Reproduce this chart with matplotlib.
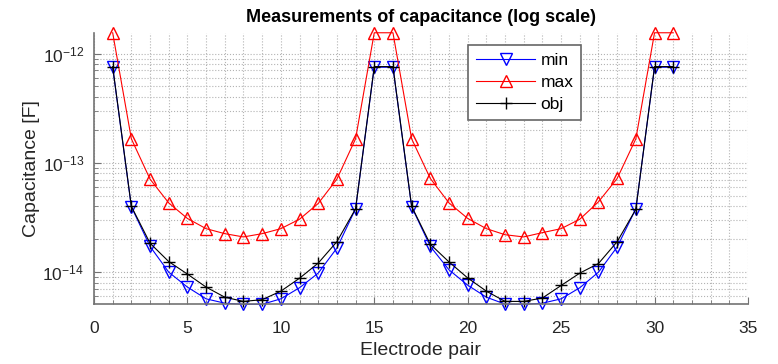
import matplotlib
matplotlib.use("Agg")
import matplotlib.pyplot as plt
from matplotlib.ticker import MultipleLocator, LogLocator, NullFormatter

plt.rcParams['font.family'] = ['Liberation Sans', 'DejaVu Sans']

# electrode pairs 1..31
pairs = list(range(1, 32))

cap_min = [7.5e-13, 3.96e-14, 1.72e-14, 1.0e-14, 7.3e-15, 5.7e-15, 5.2e-15, 5.08e-15,
           5.08e-15, 5.7e-15, 7.2e-15, 9.8e-15, 1.66e-14, 3.8e-14, 7.5e-13,
           7.5e-13, 3.96e-14, 1.72e-14, 1.05e-14, 7.6e-15, 5.9e-15, 5.1e-15, 5.08e-15,
           5.2e-15, 5.7e-15, 7.2e-15, 1.0e-14, 1.7e-14, 3.8e-14, 7.5e-13, 7.5e-13]

cap_max = [1.55e-12, 1.66e-13, 7.1e-14, 4.3e-14, 3.1e-14, 2.5e-14, 2.25e-14, 2.1e-14,
           2.25e-14, 2.5e-14, 3.05e-14, 4.25e-14, 7.1e-14, 1.66e-13, 1.55e-12,
           1.55e-12, 1.66e-13, 7.2e-14, 4.3e-14, 3.1e-14, 2.5e-14, 2.2e-14, 2.1e-14,
           2.3e-14, 2.5e-14, 3.05e-14, 4.4e-14, 7.2e-14, 1.66e-13, 1.55e-12, 1.55e-12]

cap_obj = [7.6e-13, 4.0e-14, 1.84e-14, 1.25e-14, 9.6e-15, 7.3e-15, 5.9e-15, 5.4e-15,
           5.6e-15, 6.7e-15, 8.8e-15, 1.21e-14, 1.9e-14, 3.8e-14, 7.6e-13,
           7.6e-13, 4.0e-14, 1.8e-14, 1.24e-14, 8.85e-15, 6.7e-15, 5.4e-15, 5.4e-15,
           5.8e-15, 7.55e-15, 9.8e-15, 1.2e-14, 1.9e-14, 3.76e-14, 7.6e-13, 7.6e-13]

fig = plt.figure(figsize=(7.78, 3.64), dpi=100)
ax = fig.add_axes([0.1208, 0.164, 0.8406, 0.746])

ax.semilogy(pairs, cap_min, color='blue', marker='v', markersize=9, markerfacecolor='none',
            linewidth=0.8, label='min', clip_on=False)
ax.semilogy(pairs, cap_max, color='red', marker='^', markersize=9, markerfacecolor='none',
            linewidth=0.8, label='max', clip_on=False)
ax.semilogy(pairs, cap_obj, color='black', marker='+', markersize=9,
            linewidth=0.8, label='obj', clip_on=False)

ax.set_xlim(0, 35)
ax.set_ylim(min(cap_min), max(cap_max))
ax.xaxis.set_major_locator(MultipleLocator(5))
ax.xaxis.set_minor_locator(MultipleLocator(1))
ax.yaxis.set_major_locator(LogLocator(base=10))
ax.yaxis.set_minor_locator(LogLocator(base=10, subs=range(2, 10)))
ax.yaxis.set_minor_formatter(NullFormatter())

ax.grid(True, which='both', linestyle=':', color='0.7', linewidth=0.8)
ax.set_axisbelow(True)

for s in ['top', 'right']:
    ax.spines[s].set_visible(False)
for s in ['left', 'bottom']:
    ax.spines[s].set_color('0.45')
    ax.spines[s].set_linewidth(1.2)

ax.tick_params(which='both', direction='in', colors='0.45', labelcolor='0.15', labelsize=12.5)
ax.tick_params(which='major', length=5)
ax.tick_params(which='minor', length=3, labelleft=False, labelbottom=False)
ax.tick_params(axis='x', which='major', pad=12)
ax.tick_params(axis='y', which='major', pad=7)

ax.set_title('Measurements of capacitance (log scale)', fontsize=13, fontweight='bold', pad=8)
ax.set_xlabel('Electrode pair', fontsize=14, color='0.15', labelpad=4)
ax.set_ylabel('Capacitance [F]', fontsize=14, color='0.15', labelpad=2)

leg = ax.legend(loc='upper left', bbox_to_anchor=(0.5725, 0.955), fontsize=12.5, fancybox=False,
                framealpha=1, edgecolor='0.4', handlelength=3.4, handletextpad=0.3,
                borderpad=0.45, labelspacing=0.4, borderaxespad=0)
leg.get_frame().set_linewidth(1.2)

fig.savefig('out.png', dpi=100)
